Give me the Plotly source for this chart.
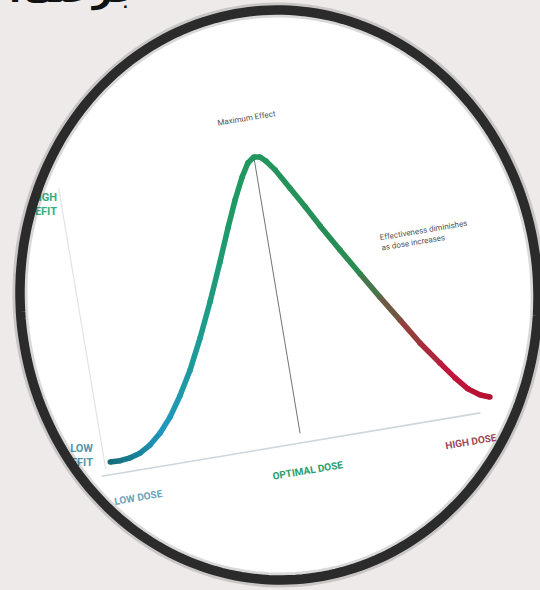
import numpy as np
import plotly.graph_objects as go

# ---------------- data ----------------
dose = [0.17, 0.42, 0.68, 0.94, 1.22, 1.52, 1.83, 2.16, 2.52, 2.90, 3.29,
        3.70, 4.04, 4.33, 4.60, 4.80, 4.97, 5.12, 5.25, 5.44, 5.73, 6.03,
        6.32, 6.71, 7.11, 7.50, 7.90, 8.30, 8.71, 9.02, 9.29, 9.57, 9.80]
benefit = [5.0, 4.9, 5.3, 6.3, 8.4, 11.8, 16.5, 22.9, 30.9, 40.9, 52.1,
           64.7, 75.5, 84.3, 91.5, 95.8, 97.4, 97.1, 95.4, 92.0, 85.2, 78.2,
           71.1, 62.1, 53.1, 44.4, 35.8, 27.1, 19.4, 13.7, 9.4, 6.7, 5.5]
optimal_dose = 4.97
optimal_line_benefit = [4, 97]
x_axis_span = [-0.1, 9.5]
y_axis_span = [3, 98]
x_labels = ["LOW DOSE", "OPTIMAL DOSE", "HIGH DOSE"]
y_labels = ["HIGH<br>BENEFIT", "LOW<br>BENEFIT"]
peak_label = "Maximum Effect"
note_label = "Effectiveness diminishes<br>as dose increases"
title_text = "جرعتك؟"

# ---------------- view (tilted photo of the chart) ----------------
W, H = 540, 590
ORIGIN = (106.0, 478.0)
TILT = np.deg2rad(9.5)
UX, UY = 40.0, 3.0  # px per dose unit / per benefit unit


def to_px(d, b):
    d = np.asarray(d, float) * UX
    b = np.asarray(b, float) * UY
    x = ORIGIN[0] + d * np.cos(TILT) - b * np.sin(TILT)
    y = ORIGIN[1] - d * np.sin(TILT) - b * np.cos(TILT)
    return x, y


stops = [(0.0, (18, 104, 114)), (1.6, (32, 152, 190)), (3.0, (28, 156, 140)),
         (4.2, (31, 154, 100)), (7.0, (40, 140, 82)), (8.1, (150, 60, 60)),
         (8.9, (192, 22, 60)), (10.0, (176, 16, 46))]


def grad(d):
    for (a, ca), (b, cb) in zip(stops[:-1], stops[1:]):
        if d <= b:
            t = max(0.0, (d - a) / (b - a))
            c = [round(ca[k] + (cb[k] - ca[k]) * t) for k in range(3)]
            return "rgb(%d,%d,%d)" % tuple(c)
    return "rgb(%d,%d,%d)" % stops[-1][1]


fig = go.Figure()

# faint axes lines of the photographed chart
ax_x, ax_y = to_px(x_axis_span, [0.8, 0.8])
fig.add_trace(go.Scatter(x=ax_x, y=ax_y, mode="lines",
                         line=dict(color="#cdd6d8", width=1.6), hoverinfo="skip"))
ay_x, ay_y = to_px([0.03, 0.03], y_axis_span)
fig.add_trace(go.Scatter(x=ay_x, y=ay_y, mode="lines",
                         line=dict(color="#e2e4e4", width=1.2), hoverinfo="skip"))

# optimal-dose marker line
ol_x, ol_y = to_px([optimal_dose, optimal_dose], optimal_line_benefit)
fig.add_trace(go.Scatter(x=ol_x, y=ol_y, mode="lines",
                         line=dict(color="#6f7475", width=1), hoverinfo="skip"))

# the gradient curve
px, py = to_px(dose, benefit)
for i in range(len(dose) - 1):
    fig.add_trace(go.Scatter(x=px[i:i + 2], y=py[i:i + 2], mode="lines",
                             line=dict(color=grad((dose[i] + dose[i + 1]) / 2), width=5.5),
                             hoverinfo="skip"))
fig.add_trace(go.Scatter(x=px, y=py, mode="markers",
                         marker=dict(size=5.5, color=[grad(d) for d in dose], line=dict(width=0)),
                         hoverinfo="skip"))

# clipped benefit labels (as plot text so the frame can clip them)
fig.add_trace(go.Scatter(x=[57], y=[205], mode="text", text=[y_labels[0]],
                         textposition="middle left",
                         textfont=dict(family="Roboto", size=11, color="#34ae80", weight="bold"),
                         hoverinfo="skip"))
fig.add_trace(go.Scatter(x=[93], y=[456], mode="text", text=[y_labels[1]],
                         textposition="middle left",
                         textfont=dict(family="Roboto", size=11, color="#5595ab", weight="bold"),
                         hoverinfo="skip"))

# ---------------- circular frame ----------------
cx, cy, rx, ry, phi = 279.0, 295.0, 259.0, 285.0, np.deg2rad(-2.0)
t = np.linspace(0, 2 * np.pi, 241)
ex = cx + rx * np.cos(t) * np.cos(phi) - ry * np.sin(t) * np.sin(phi)
ey = cy + rx * np.cos(t) * np.sin(phi) + ry * np.sin(t) * np.cos(phi)
ell = " ".join(("M" if i == 0 else "L") + "%.1f,%.1f" % (a, b) for i, (a, b) in enumerate(zip(ex, ey))) + " Z"
mask = "M-5,-5 L%d,-5 L%d,%d L-5,%d Z " % (W + 5, W + 5, H + 5, H + 5) + ell
fig.add_shape(type="path", path=mask, fillcolor="#eeeaea", line=dict(width=0),
              layer="above", xref="x", yref="y", fillrule="evenodd")
fig.add_shape(type="path", path=ell, line=dict(color="rgba(40,40,40,0.18)", width=15),
              layer="above", xref="x", yref="y")
fig.add_shape(type="path", path=ell, line=dict(color="#2b2b2b", width=9.5),
              layer="above", xref="x", yref="y")

ang = -9.5
fig.add_annotation(x=246, y=118, text=peak_label, showarrow=False, textangle=ang,
                   font=dict(family="Roboto", size=8, color="#555"))
fig.add_annotation(x=424, y=235, text=note_label, showarrow=False, textangle=ang,
                   align="left", font=dict(family="Roboto", size=8, color="#555"))
fig.add_annotation(x=138, y=497, text=x_labels[0], showarrow=False, textangle=ang,
                   font=dict(family="Roboto", size=10, color="#6ba3b8", weight="bold"))
fig.add_annotation(x=307, y=470, text=x_labels[1], showarrow=False, textangle=ang,
                   font=dict(family="Roboto", size=10, color="#2a9c6c", weight="bold"))
fig.add_annotation(x=471, y=441, text=x_labels[2], showarrow=False, textangle=ang,
                   font=dict(family="Roboto", size=10, color="#9c4a5a", weight="bold"))
fig.add_annotation(x=2, y=13, xref="x", yref="y", xanchor="left", yanchor="bottom",
                   text=title_text, showarrow=False,
                   font=dict(family="DejaVu Sans", size=34, color="#111", weight="bold"))

fig.update_layout(width=W, height=H, margin=dict(l=0, r=0, t=0, b=0),
                  paper_bgcolor="#ffffff", plot_bgcolor="#ffffff", showlegend=False,
                  xaxis=dict(range=[0, W], visible=False, fixedrange=True),
                  yaxis=dict(range=[H, 0], visible=False, fixedrange=True))
fig.write_html("out.html", config={"displayModeBar": False},
               post_script="document.body.style.margin='0';document.body.style.overflow='hidden';")
